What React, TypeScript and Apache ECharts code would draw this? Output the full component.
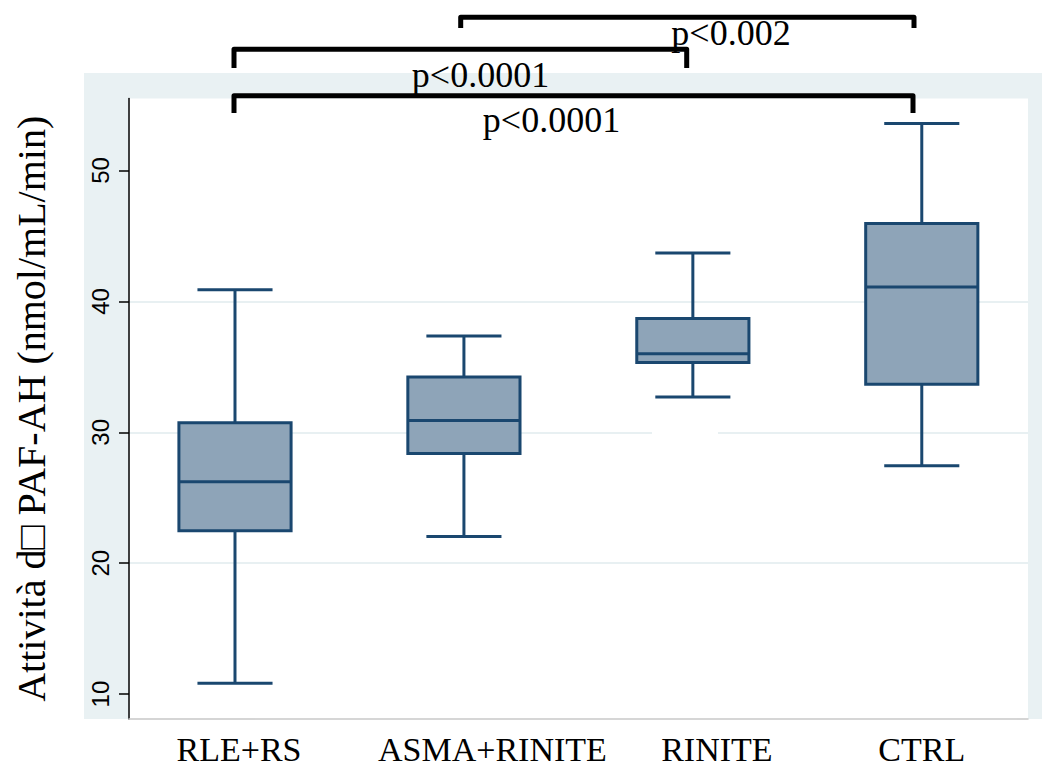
import React, { useEffect, useRef } from "react";
import * as echarts from "echarts";

const categories = ["RLE+RS", "ASMA+RINITE", "RINITE", "CTRL"];
const lowWhisker = [10.84, 22.04, 32.69, 27.44];
const q1Values = [22.48, 28.38, 35.33, 33.68];
const medianValues = [26.23, 30.9, 36.0, 41.11];
const q3Values = [30.74, 34.22, 38.69, 45.95];
const highWhisker = [40.89, 37.35, 43.69, 53.59];
const yTickValues = [10, 20, 30, 40, 50];
const labelShift = [8, 57, 48, 0];

const pLabels = ["p<0.0001", "p<0.0001", "p<0.002"];

const NAVY = "#1a476f";
const FILL = "#8ea4b8";
const PANEL = "#e9f1f3";
const SERIF = '"Liberation Serif", "Times New Roman", serif';
const SANS = '"Liberation Sans", Arial, sans-serif';

export default function App() {
  const ref = useRef<HTMLDivElement>(null);
  useEffect(() => {
    if (!ref.current) return;
    const chart = echarts.init(ref.current, undefined, { renderer: "svg" });
    const data = categories.map((_, i) => [
      i + 1,
      lowWhisker[i],
      q1Values[i],
      medianValues[i],
      q3Values[i],
      highWhisker[i],
    ]);
    const rich: Record<string, any> = {};
    labelShift.forEach((p, i) => {
      rich["s" + i] = {
        fontFamily: SERIF,
        fontSize: 34,
        lineHeight: 28,
        color: "#000",
        padding: [0, 0, 0, p],
      };
    });
    const bracket = (pts: number[][]) => ({
      type: "polyline",
      z: 20,
      shape: { points: pts },
      style: { stroke: "#000", lineWidth: 5, fill: null, lineJoin: "round", lineCap: "butt" },
    });
    const ptext = (t: string, x: number, y: number) => ({
      type: "text",
      z: 21,
      x,
      y,
      style: {
        text: t,
        fontFamily: SERIF,
        fontSize: 36,
        fill: "#000",
        align: "center",
        verticalAlign: "middle",
        textAlign: "center",
        textVerticalAlign: "middle",
      },
    });
    chart.setOption({
      animation: false,
      backgroundColor: "#fff",
      grid: { left: 129, right: 14, top: 98.5, bottom: 48, containLabel: false },
      xAxis: {
        type: "value",
        min: 0.537,
        max: 4.464,
        splitLine: { show: false },
        axisTick: { show: false },
        axisLine: { show: true, lineStyle: { color: "#c8c8c8", width: 1.5 } },
        axisLabel: {
          customValues: [1, 2, 3, 4],
          margin: 16,
          lineHeight: 28,
          formatter: (v: number) => {
            const i = Math.round(v) - 1;
            return "{s" + i + "|" + categories[i] + "}";
          },
          rich,
        },
      },
      yAxis: {
        type: "value",
        min: 8.1,
        max: 55.5,
        name: "Attività d\u25A1 PAF-AH (nmol/mL/min)",
        nameLocation: "middle",
        nameGap: 78,
        nameTextStyle: { fontFamily: SERIF, fontSize: 40, color: "#000" },
        axisLine: { show: true, lineStyle: { color: "#000", width: 1.5 } },
        axisTick: { show: true, length: 10, customValues: yTickValues, lineStyle: { color: "#000", width: 1.5 } },
        axisLabel: {
          customValues: yTickValues,
          rotate: 90,
          margin: 17,
          fontFamily: SANS,
          fontSize: 24,
          color: "#000",
        },
        splitLine: { show: true, showMinLine: false, showMaxLine: false, lineStyle: { color: "#e8f0f2", width: 2 } },
      },
      graphic: [
        { type: "rect", z: -1, shape: { x: 84, y: 73, width: 44.5, height: 646 }, style: { fill: PANEL } },
        { type: "rect", z: -1, shape: { x: 84, y: 73, width: 958, height: 25.5 }, style: { fill: PANEL } },
        { type: "rect", z: -1, shape: { x: 1028, y: 73, width: 14, height: 646 }, style: { fill: PANEL } },
        { type: "rect", z: 1, shape: { x: 652, y: 431, width: 66, height: 3.5 }, style: { fill: "#fff" } },
        bracket([[460.7, 28], [460.7, 17.3], [914, 17.3], [914, 28]]),
        bracket([[234, 68], [234, 49.3], [686.7, 49.3], [686.7, 68]]),
        bracket([[234, 113], [234, 95.7], [913, 95.7], [913, 113]]),
        ptext(pLabels[0], 480.5, 75),
        ptext(pLabels[1], 551.5, 120),
        ptext(pLabels[2], 731, 33),
      ],
      series: [
        {
          type: "custom",
          z: 5,
          encode: { x: 0, y: [1, 2, 3, 4, 5] },
          data,
          renderItem: (params: any, api: any) => {
            const x = api.value(0);
            const lo = api.coord([x, api.value(1)]);
            const q1 = api.coord([x, api.value(2)]);
            const md = api.coord([x, api.value(3)]);
            const q3 = api.coord([x, api.value(4)]);
            const hi = api.coord([x, api.value(5)]);
            const band = api.size([1, 0])[0];
            const bw = band * 0.49;
            const cw = band * 0.328;
            const cx = md[0];
            const ls = { stroke: NAVY, lineWidth: 3 };
            return {
              type: "group",
              children: [
                { type: "line", shape: { x1: cx, y1: hi[1], x2: cx, y2: q3[1] }, style: ls },
                { type: "line", shape: { x1: cx, y1: q1[1], x2: cx, y2: lo[1] }, style: ls },
                { type: "line", shape: { x1: cx - cw / 2, y1: hi[1], x2: cx + cw / 2, y2: hi[1] }, style: ls },
                { type: "line", shape: { x1: cx - cw / 2, y1: lo[1], x2: cx + cw / 2, y2: lo[1] }, style: ls },
                {
                  type: "rect",
                  shape: { x: cx - bw / 2, y: q3[1], width: bw, height: q1[1] - q3[1] },
                  style: { fill: FILL, stroke: NAVY, lineWidth: 3 },
                },
                { type: "line", shape: { x1: cx - bw / 2, y1: md[1], x2: cx + bw / 2, y2: md[1] }, style: ls },
              ],
            };
          },
        },
      ],
    });
    return () => chart.dispose();
  }, []);
  return <div ref={ref} style={{ position: "fixed", left: 0, top: 0, width: 1042, height: 767 }} />;
}
